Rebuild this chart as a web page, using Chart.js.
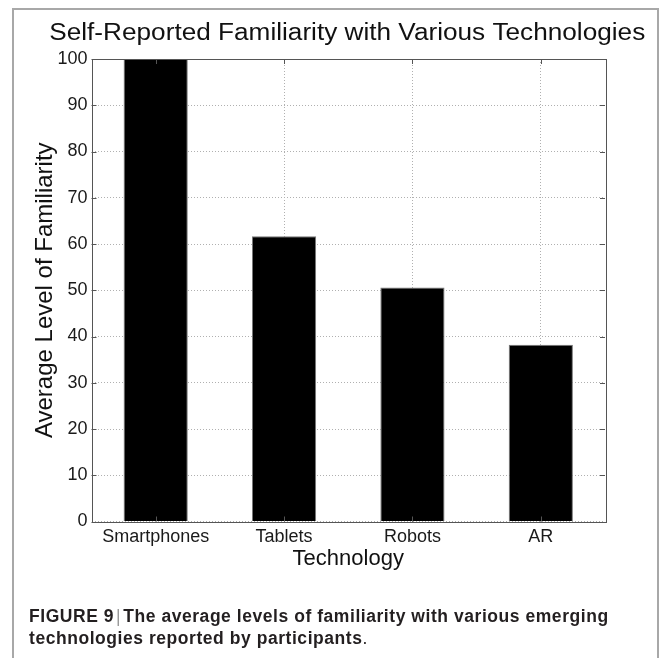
<!DOCTYPE html>
<html lang="en">
<head>
  <meta charset="UTF-8" />
  <title>Self-Reported Familiarity</title>
  <script src="https://cdn.jsdelivr.net/npm/chart.js"></script>
  <style>
    html, body { margin: 0; padding: 0; background: #fff; }
    body { width: 666px; height: 658px; position: relative; overflow: hidden; font-family: "Liberation Sans", Arial, sans-serif; }
    .frame {
      position: absolute; left: 12px; top: 8px; width: 647px; height: 700px;
      border: 2px solid #a8a8a8; box-sizing: border-box;
    }
    .chart-box { position: absolute; left: 0; top: 0; width: 666px; height: 658px; }
    .caption {
      position: absolute; left: 29px; top: 605px; width: 630px; white-space: nowrap;
      font-weight: bold; font-size: 17.5px; line-height: 22px; letter-spacing: 0.55px; color: #231f20;
    }
    .caption .sep { font-weight: normal; color: #999; padding: 0 2px; }
    .caption .dot { font-weight: normal; }
  </style>
</head>
<body>
  <div class="frame"></div>
  <div class="chart-box"><canvas id="famChart" width="666" height="658"></canvas></div>
  <div class="caption">FIGURE 9<span class="sep">|</span>The average levels of familiarity with various emerging<br>technologies reported by participants<span class="dot">.</span></div>

  <script>
    // data
    const categories = ['Smartphones', 'Tablets', 'Robots', 'AR'];
    const familiarity = [100, 61.7, 50.6, 38.2];
    const yTicks = [0, 10, 20, 30, 40, 50, 60, 70, 80, 90, 100];

    const chartTitle = 'Self-Reported Familiarity with Various Technologies';
    const xTitle = 'Technology';
    const yTitle = 'Average Level of Familiarity';

    // matlab style box, inward ticks and titles
    const matlabAxes = {
      id: 'matlabAxes',
      afterDraw(chart) {
        const { ctx, chartArea: a, scales: { x, y } } = chart;
        ctx.save();
        ctx.strokeStyle = '#555';
        ctx.lineWidth = 1;
        ctx.beginPath();
        yTicks.forEach(v => {
          const py = Math.round(y.getPixelForValue(v)) + 0.5;
          ctx.moveTo(a.left, py); ctx.lineTo(a.left + 5, py);
          ctx.moveTo(a.right, py); ctx.lineTo(a.right - 5, py);
        });
        categories.forEach((c, i) => {
          const px = Math.round(x.getPixelForValue(i)) + 0.5;
          ctx.moveTo(px, a.top); ctx.lineTo(px, a.top + 5);
          ctx.moveTo(px, a.bottom); ctx.lineTo(px, a.bottom - 5);
        });
        ctx.stroke();
        ctx.strokeRect(Math.round(a.left) + 0.5, Math.round(a.top) + 0.5,
                       Math.round(a.right - a.left), Math.round(a.bottom - a.top));

        const cx = (a.left + a.right) / 2;
        ctx.fillStyle = '#111';
        ctx.textAlign = 'center';
        ctx.textBaseline = 'alphabetic';

        // title glyphs in the original are a little wider than Arial
        ctx.save();
        ctx.font = '23px "Liberation Sans", Arial, sans-serif';
        ctx.translate(cx - 1, 40);
        ctx.scale(1.138, 1);
        ctx.fillText(chartTitle, 0, 0);
        ctx.restore();

        ctx.font = '22px "Liberation Sans", Arial, sans-serif';
        ctx.fillText(xTitle, cx, 565);

        ctx.font = '24px "Liberation Sans", Arial, sans-serif';
        ctx.translate(52, (a.top + a.bottom) / 2);
        ctx.rotate(-Math.PI / 2);
        ctx.fillText(yTitle, 0, 0);
        ctx.restore();
      }
    };

    new Chart(document.getElementById('famChart'), {
      type: 'bar',
      data: {
        labels: categories,
        datasets: [{
          data: familiarity,
          backgroundColor: '#000',
          borderColor: '#777',
          borderWidth: 1,
          barPercentage: 0.5,
          categoryPercentage: 1
        }]
      },
      options: {
        responsive: false,
        animation: false,
        events: [],
        layout: { padding: { left: 0, top: 59, right: 61, bottom: 0 } },
        plugins: { legend: { display: false }, tooltip: { enabled: false }, title: { display: false } },
        scales: {
          x: {
            grid: { offset: false, color: '#b0b0b0', lineWidth: 1, drawTicks: false },
            border: { display: false, dash: [1, 2] },
            ticks: { color: '#1a1a1a', padding: 5, font: { family: '"Liberation Sans", Arial, sans-serif', size: 18 } },
            afterFit: s => { s.height = 136.5; }
          },
          y: {
            min: 0, max: 100,
            afterBuildTicks: s => { s.ticks = yTicks.map(v => ({ value: v })); },
            grid: { color: '#b0b0b0', lineWidth: 1, drawTicks: false },
            border: { display: false, dash: [1, 2] },
            ticks: { color: '#1a1a1a', padding: 4, font: { family: '"Liberation Sans", Arial, sans-serif', size: 18 } },
            afterFit: s => { s.width = 91.5; }
          }
        }
      },
      plugins: [matlabAxes]
    });
  </script>
</body>
</html>
